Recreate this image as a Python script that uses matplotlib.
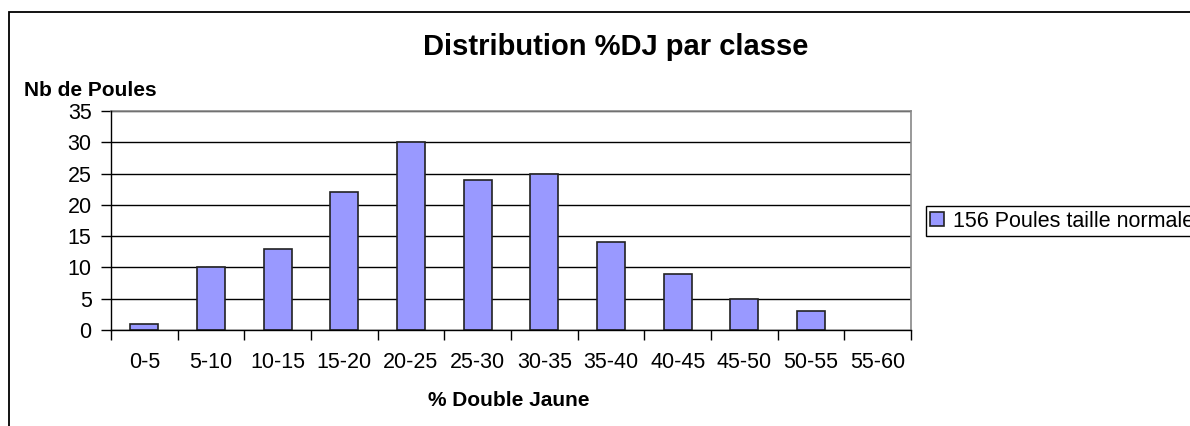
import matplotlib.pyplot as plt
from matplotlib.patches import Rectangle
import numpy as np

plt.rcParams['font.family'] = ['Liberation Sans', 'DejaVu Sans']

classes = ['0-5', '5-10', '10-15', '15-20', '20-25', '25-30',
           '30-35', '35-40', '40-45', '45-50', '50-55', '55-60']
nb_poules = [1, 10, 13, 22, 30, 24, 25, 14, 9, 5, 3, 0]
serie = '156 Poules taille normale'

W, H = 1190, 426
fig = plt.figure(figsize=(W / 100, H / 100), dpi=100)

# cadre du graphique (coupe a droite et en bas)
fig.patches.append(Rectangle((9 / W, -0.2), 1.5, 1.2 - 12 / H,
                             transform=fig.transFigure, fill=False,
                             edgecolor='black', linewidth=1.3))

ax = fig.add_axes([111 / W, (H - 330) / H, 800 / W, 219 / H])
x = np.arange(len(classes))
# pas de contour pour une barre vide
lw = [1.2 if v > 0 else 0 for v in nb_poules]
ax.bar(x, nb_poules, width=0.42, color='#9999FF', edgecolor='#222222',
       linewidth=lw, label=serie, zorder=2)

ax.set_xlim(-0.5, len(classes) - 0.5)
ax.set_ylim(0, 35)
ax.set_yticks(range(0, 36, 5))
ax.yaxis.grid(True, color='black', linewidth=1)
ax.set_axisbelow(True)

ax.set_xticks(x)
ax.set_xticklabels(classes)
ax.set_xticks(np.arange(-0.5, len(classes)), minor=True)
ax.tick_params(axis='x', which='major', length=0, pad=16, labelsize=15.5)
ax.tick_params(axis='x', which='minor', length=7, width=1, direction='out')
ax.tick_params(axis='y', length=7, width=1, pad=7, labelsize=15.5)

for s in ['left', 'bottom']:
    ax.spines[s].set_color('black')
    ax.spines[s].set_linewidth(1)
    ax.spines[s].set_zorder(3)
for s in ['top', 'right']:
    ax.spines[s].set_color('#888888')
    ax.spines[s].set_linewidth(1.2)

fig.text(616 / W, 1 - 47 / H, 'Distribution %DJ par classe', ha='center',
         va='center', fontsize=21, fontweight='bold')
fig.text(24 / W, 1 - 90 / H, 'Nb de Poules', ha='left', va='center',
         fontsize=15, fontweight='bold')
fig.text(509 / W, 1 - 400 / H, '% Double Jaune', ha='center', va='center',
         fontsize=15, fontweight='bold')

leg = fig.legend(loc='center left', bbox_to_anchor=(926 / W, 1 - 221 / H),
                 fontsize=15.5, fancybox=False, edgecolor='black',
                 framealpha=1, borderpad=0.2, handlelength=0.65,
                 handleheight=0.65, handletextpad=0.4, borderaxespad=0)
leg.get_frame().set_linewidth(1)
leg.legend_handles[0].set_linewidth(1.2)

fig.savefig('out.png', dpi=100)
